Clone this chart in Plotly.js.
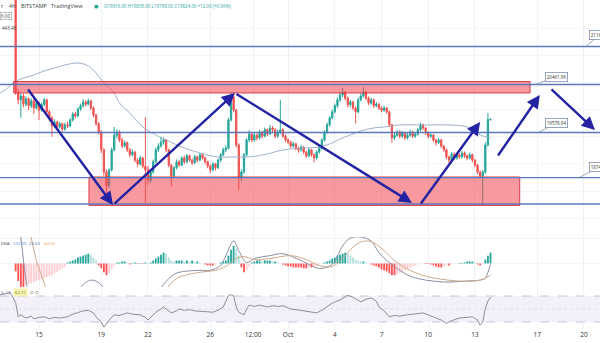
<!DOCTYPE html>
<html><head><meta charset="utf-8">
<script src="https://cdn.plot.ly/plotly-3.0.1.min.js"></script>
<style>html,body{margin:0;padding:0;background:#fff}#c{width:600px;height:343px}</style>
</head><body><div id="c"></div>
<script>
// ---- data: BTC/USD 4h candles (BITSTAMP), first candle 2022-09-13 12:00 ----
const firstCandle = Date.UTC(2022, 8, 13, 12);
const candleHours = 4;
const open = [22290,20320,20180,20250,20100,20200,20070,20160,20030,20120,19990,20100,20180,19960,19850,19700,19770,19680,19740,19640,
19720,19700,19810,19920,19880,20010,20070,20140,20100,20160,20030,19900,19740,19590,19260,18850,18600,18890,19260,19530,
19590,19440,19330,19390,19260,19170,19220,19070,19000,19110,18960,18890,18700,18850,19040,19260,19330,19400,19440,19260,
18980,18780,18930,19040,18980,19110,19040,19150,19070,19020,19130,19070,19170,19110,19040,18960,18890,19000,18930,19070,
19170,19260,19290,19810,20230,19990,19350,18740,18850,19170,19440,19550,19440,19530,19480,19590,19510,19630,19550,19660,
19630,19510,19590,19630,19510,19440,19400,19330,19370,19290,19260,19310,19220,19150,19260,19170,19110,19220,19290,19440,
19590,19720,19850,19960,20070,20180,20270,20320,20210,20090,20140,20030,19960,20180,20250,20320,20210,20120,20180,20070,
20100,20030,19990,20030,19960,19720,19480,19530,19590,19510,19570,19480,19530,19590,19510,19550,19630,19720,19660,19570,
19510,19530,19440,19390,19440,19330,19260,19130,19070,19180,19110,19170,19130,19200,19150,19110,19170,19070,18980,18850,
18780,18850,19350,19816];
const high = [22380,20380,20300,20290,20240,20230,20210,20190,20170,20150,20130,20220,20200,19990,19880,19820,19800,19780,19760,19760,
19780,19840,19950,19960,20040,20110,20190,20170,20200,20180,20060,19920,19770,19620,19290,18900,18920,19300,19680,19640,
19620,19480,19430,19410,19290,19270,19240,19110,19150,19130,19860,18960,18900,19080,19300,19380,19500,19490,19460,19280,
19000,18960,19080,19070,19140,19150,19180,19170,19100,19170,19150,19200,19200,19140,19060,18990,19030,19020,19100,19200,
19300,19340,19850,20310,20290,20010,19380,18900,19200,19480,19620,19580,19570,19560,19630,19610,19670,19650,19720,19700,
19660,19630,20180,19660,19540,19470,19430,19410,19390,19320,19350,19330,19240,19290,19280,19190,19250,19330,19470,19620,
19760,19880,20000,20110,20220,20330,20400,20350,20240,20180,20160,20060,20220,20300,20420,20350,20240,20220,20200,20140,
20120,20060,20070,20050,19980,19740,19570,19620,19620,19610,19590,19570,19630,19610,19590,19660,19760,19740,19680,19600,
19560,19550,19460,19480,19460,19350,19280,19150,19220,19210,19200,19190,19240,19230,19170,19210,19190,19090,19000,18880,
18890,19400,19940,19835];
const low = [20270,20100,19850,20040,20060,19990,20030,19920,20000,19810,19960,20060,19900,19780,19500,19660,19620,19650,19580,19610,
19660,19680,19780,19840,19860,19980,20040,20060,20080,19990,19860,19700,19540,19200,18780,18430,18550,18860,19230,19470,
19400,19290,19300,19220,19120,19140,19030,18950,18970,18920,18280,18620,18650,18820,19010,19220,19300,19350,19220,18940,
18580,18740,18900,18940,18960,19000,19010,19040,18980,19000,19030,19050,19080,19000,18920,18830,18860,18880,18910,19040,
19140,19220,19270,19780,19950,19300,18520,18680,18820,19140,19400,19400,19410,19430,19450,19470,19490,19510,19530,19580,
19470,19480,19550,19480,19400,19360,19290,19300,19250,19210,19230,19180,19110,19120,19130,19030,19080,19190,19260,19410,
19550,19690,19820,19930,20030,20140,20230,20170,20040,20050,19990,19750,19930,20150,20220,20170,20080,20090,20030,20040,
19990,19950,19960,19920,19680,19390,19440,19500,19470,19480,19440,19450,19500,19480,19480,19520,19600,19620,19530,19470,
19480,19400,19340,19370,19290,19220,19090,19020,19050,19070,19080,19090,19100,19110,19070,19080,19030,18940,18810,18740,
18250,18820,19320,19798];
const close = [20320,20180,20250,20100,20200,20070,20160,20030,20120,19990,20100,20180,19960,19850,19700,19770,19680,19740,19640,19720,
19700,19810,19920,19880,20010,20070,20140,20100,20160,20030,19900,19740,19590,19260,18850,18600,18890,19260,19530,19590,
19440,19330,19390,19260,19170,19220,19070,19000,19110,18960,18890,18700,18850,19040,19260,19330,19400,19440,19260,18980,
18780,18930,19040,18980,19110,19040,19150,19070,19020,19130,19070,19170,19110,19040,18960,18890,19000,18930,19070,19170,
19260,19290,19810,20230,19990,19350,18740,18850,19170,19440,19550,19440,19530,19480,19590,19510,19630,19550,19660,19630,
19510,19590,19630,19510,19440,19400,19330,19370,19290,19260,19310,19220,19150,19260,19170,19110,19220,19290,19440,19590,
19720,19850,19960,20070,20180,20270,20320,20210,20090,20140,20030,19960,20180,20250,20320,20210,20120,20180,20070,20100,
20030,19990,20030,19960,19720,19480,19530,19590,19510,19570,19480,19530,19590,19510,19550,19630,19720,19660,19570,19510,
19530,19440,19390,19440,19330,19260,19130,19070,19180,19110,19170,19130,19200,19150,19110,19170,19070,18980,18850,18780,
18850,19350,19816,19824];

// moving average (sampled at candle indices)
const maIdx = [-6,-4,-1,2,7,11,15,19,24,28,31,34,38,40,44,49,54,58,65,71,78,84,90,97,103,112,117,122,125,129,133,138,142,148,158,167,174,179,183];
const maVal = [20306,20361,20490,20563,20637,20711,20766,20821,20858,20803,20674,20490,20306,20122,19938,19680,19533,19441,19294,19202,19128,19128,19128,19184,19257,19294,19312,19386,19459,19533,19607,19662,19680,19717,19717,19717,19680,19533,19478];

// MACD histogram per candle
const macdHist = [-80,-180,-240,-240,-220,-210,-200,-190,-180,-170,-160,-150,-140,-130,-120,-100,-90,-70,-50,-30,
10,20,30,40,60,70,80,90,100,90,60,30,-20,-50,-90,-120,-100,-60,-20,10,
10,20,20,10,-10,5,10,-5,5,-5,10,5,10,30,50,70,90,110,100,60,
30,20,30,30,30,20,30,20,30,20,20,10,0,-10,-20,-20,-20,-10,0,10,
20,30,80,140,180,150,80,-40,-90,-70,-30,10,20,30,30,20,30,30,30,20,
20,10,0,-10,-20,-30,-30,-40,-40,-40,-40,-50,-50,-40,-40,-30,-20,-10,0,10,
20,30,50,60,80,90,100,110,100,80,60,40,30,20,20,10,0,-10,-20,-30,
-40,-60,-70,-80,-100,-120,-120,-110,-100,-90,-70,-60,-40,-30,-20,-10,0,0,-5,-5,
-10,-20,-30,-40,-40,-30,-20,-20,-10,-5,0,5,5,10,20,20,20,10,-10,-20,
-10,40,80,110];
const macdIdx = [0,2,4,6,9,13,17,21,25,29,33,36,40,44,48,52,56,60,63,71,75,79,81,84,86,89,92,98,103,110,117,122,126,129,133,137,140,144,148,152,156,161,167,173,179,181,182,183];
const macdVal = [580,260,-170,-420,-620,-670,-550,-370,-240,-170,-220,-470,-550,-520,-490,-420,-250,-130,-90,-70,-70,-20,80,230,130,10,50,80,100,30,-50,-10,180,260,270,230,110,10,-70,-130,-160,-180,-190,-180,-170,-150,-90,-10];
const signalIdx = [0,4,6,8,11,13,17,21,25,29,33,36,40,44,48,52,56,60,63,71,77,81,85,88,92,98,106,112,117,122,127,131,135,138,142,146,152,158,164,171,179,183];
const signalVal = [730,480,260,30,-200,-370,-520,-550,-490,-370,-290,-350,-420,-450,-460,-440,-330,-200,-140,-90,-70,-30,50,70,40,50,80,40,-20,-30,80,190,230,210,130,30,-70,-130,-160,-180,-170,-120];

// RSI (sampled at candle indices)
const rsiIdx = [-6,-4,-2,0,1,2,4,6,7,9,11,13,15,17,20,22,24,26,28,30,31,33,34,36,38,40,43,45,48,50,51,53,54,56,57,59,60,62,63,65,67,69,71,73,76,78,80,82,83,84,85,86,88,89,90,92,94,97,99,101,103,106,108,110,113,116,118,120,122,125,128,130,133,135,137,139,140,142,144,146,148,151,154,157,159,161,164,166,168,171,174,176,178,179,180,181,182,183];
const rsiVal = [72,74,75,60,38,41,36,39,35,37,38,35,37,36,38,42,45,47,48,44,38,30,22,33,41,40,44,42,41,37,33,40,45,50,53,47,44,47,50,48,49,47,47,46,45,48,53,71,72,70,53,45,41,50,56,54,56,53,55,54,55,50,49,48,46,44,48,53,59,64,71,68,61,65,67,62,53,47,38,40,39,41,42,44,41,38,33,28,32,36,37,38,33,25,30,51,62,68];

// drawings
const levels = [21161.26, 20461.96, 19578.94, 18747.55, 18263.10];
const zoneStart = ['2022-09-13 09:00', '2022-09-18 05:00'];
const zoneEnd   = ['2022-10-16 13:00', '2022-10-15 21:00'];
const zoneLow   = [20306, 18236];
const zoneHigh  = [20517, 18760];
const arrowFromT = ['2022-09-14 05:30','2022-09-19 18:00','2022-09-27 14:00','2022-10-09 11:00','2022-10-14 10:00','2022-10-17 19:40'];
const arrowFromP = [20398, 18245, 20306, 18245, 19128, 20398];
const arrowToT   = ['2022-09-19 18:00','2022-09-27 14:00','2022-10-08 23:00','2022-10-13 08:00','2022-10-17 04:00','2022-10-20 17:00'];
const arrowToP   = [18245, 20306, 18282, 19772, 20269, 19625];
const noteText = ['20461.96','19578.94','21161.26','18747.55'];
const noteT    = ['2022-10-16 21:00','2022-10-17 01:00','2022-10-20 03:00','2022-10-19 16:00'];
const noteP    = [20461.96, 19578.94, 21161.26, 18747.55];

const tickVals = ['2022-09-15','2022-09-19','2022-09-22','2022-09-26','2022-09-28 18:00','2022-10-01','2022-10-04','2022-10-07','2022-10-10','2022-10-13','2022-10-17','2022-10-20'];
const tickText = ['15','19','22','26','12:00','Oct','4','7','10','13','17','20'];

// ---- build ----
function tAt(i){ return new Date(firstCandle + i*candleHours*3600e3).toISOString().slice(0,16).replace('T',' '); }
const times = close.map((_, i) => tAt(i));

const histColors = macdHist.map((v, i) => {
  const prev = i > 0 ? macdHist[i-1] : v;
  if (v >= 0) return v >= prev ? '#26a69a' : '#b2dfdb';
  return v <= prev ? '#ff5252' : '#ffcdd2';
});

const traces = [
  {type:'candlestick', x:times, open:open, high:high, low:low, close:close, xaxis:'x', yaxis:'y',
   increasing:{line:{color:'#26a69a', width:1}, fillcolor:'#26a69a'},
   decreasing:{line:{color:'#ef5350', width:1}, fillcolor:'#ef5350'}, hoverinfo:'skip', showlegend:false},
  {type:'scatter', mode:'lines', x:maIdx.map(tAt), y:maVal, yaxis:'y', line:{color:'#9fb0cc', width:1, shape:'spline'}, hoverinfo:'skip', showlegend:false},
  {type:'bar', x:times, y:macdHist, yaxis:'y2', marker:{color:histColors, line:{width:0}}, hoverinfo:'skip', showlegend:false},
  {type:'scatter', mode:'lines', x:macdIdx.map(tAt), y:macdVal, yaxis:'y2', line:{color:'#8a8fa3', width:1, shape:'spline'}, hoverinfo:'skip', showlegend:false},
  {type:'scatter', mode:'lines', x:signalIdx.map(tAt), y:signalVal, yaxis:'y2', line:{color:'#d0a98a', width:1, shape:'spline'}, hoverinfo:'skip', showlegend:false},
  {type:'scatter', mode:'lines', x:rsiIdx.map(tAt), y:rsiVal, yaxis:'y3', line:{color:'#8c8c9c', width:1}, hoverinfo:'skip', showlegend:false}
];

const W = 600, H = 329;
function px(x){ return x / W; }
function py(y){ return 1 - y / H; }

const shapes = [];
shapes.push({type:'rect', xref:'paper', yref:'y3', x0:0, x1:1, y0:30, y1:70, fillcolor:'rgba(126,87,194,0.09)', line:{width:0}, layer:'below'});
[70,30].forEach(v => shapes.push({type:'line', xref:'paper', yref:'y3', x0:0, x1:1, y0:v, y1:v, line:{color:'#b7b9c6', width:0.8, dash:'dash'}, layer:'below'}));
shapes.push({type:'line', xref:'paper', yref:'y3', x0:0, x1:1, y0:50, y1:50, line:{color:'#d4d5de', width:0.6, dash:'dot'}, layer:'below'});
for (let k = 0; k < zoneStart.length; k++) {
  shapes.push({type:'rect', xref:'x', yref:'y', x0:zoneStart[k], x1:zoneEnd[k], y0:zoneLow[k], y1:zoneHigh[k],
    fillcolor:'rgba(242,70,80,0.55)', line:{color:'rgba(215,40,55,0.85)', width:1}, layer:'above'});
}
levels.forEach(v => shapes.push({type:'line', xref:'paper', yref:'y', x0:0, x1:1, y0:v, y1:v, line:{color:'#5a78bb', width:1.4}, layer:'above'}));

const annotations = [];
for (let k = 0; k < arrowFromT.length; k++) {
  annotations.push({xref:'x', yref:'y', axref:'x', ayref:'y', x:arrowToT[k], y:arrowToP[k], ax:arrowFromT[k], ay:arrowFromP[k],
    text:'', showarrow:true, arrowhead:2, arrowsize:1.1, arrowwidth:2.4, arrowcolor:'#2323a3'});
}
const noteOff = [[21,-8],[19,-9],[21,-12],[24,-11]];
for (let k = 0; k < noteText.length; k++) {
  annotations.push({xref:'x', yref:'y', x:noteT[k], y:noteP[k], ax:noteOff[k][0], ay:noteOff[k][1], text:noteText[k],
    showarrow:true, arrowhead:0, arrowwidth:0.8, arrowcolor:'#8190b0', bordercolor:'#8190b0', borderwidth:0.8, borderpad:1,
    bgcolor:'#ffffff', font:{family:'Open Sans', size:4.5, color:'#333'}});
}
function txt(t, x, y, opts){
  return Object.assign({xref:'paper', yref:'paper', x:px(x), y:py(y), xanchor:'left', yanchor:'middle', text:t, showarrow:false,
    font:{family:'Open Sans', size:5.5, color:'#444'}}, opts || {});
}
annotations.push(txt('r', -1, 6));
annotations.push(txt('4h', 7, 6));
annotations.push(txt('BITSTAMP', 19, 6));
annotations.push(txt('TradingView', 49, 6));
annotations.push(txt('●', 92, 6, {font:{family:'DejaVu Sans', size:5, color:'#26a69a'}}));
annotations.push(txt('O19816.00 H19835.00 L19798.00 C19824.00 +12.00 (+0.06%)', 102, 6, {font:{family:'Open Sans', size:4.5, color:'#26a69a'}}));
annotations.push(txt('6.00', 0, 16, {font:{family:'Open Sans', size:4.5, color:'#444'}, bordercolor:'#9a9a9a', borderwidth:0.6, borderpad:0.5, bgcolor:'#fff'}));
annotations.push(txt('443.48', 0, 28, {font:{family:'Open Sans', size:4.5, color:'#444'}}));
annotations.push(txt('EMA', -1, 243, {font:{family:'Open Sans', size:4.2, color:'#555'}}));
annotations.push(txt('102.09', 11, 243, {font:{family:'Open Sans', size:4.2, color:'#3f7fd0'}}));
annotations.push(txt('29.64', 27, 243, {font:{family:'Open Sans', size:4.2, color:'#5a6fa0'}}));
annotations.push(txt('-64.05', 41, 243, {font:{family:'Open Sans', size:4.2, color:'#f09a3a'}}));
annotations.push(txt('5, 13', -1, 292, {font:{family:'Open Sans', size:4.2, color:'#555'}}));
annotations.push(txt('62.71', 13, 292, {font:{family:'Open Sans', size:4.2, color:'#8a7a20'}, bgcolor:'#f6f3b0'}));
annotations.push(txt('∅ ∅', 28, 292, {font:{family:'DejaVu Sans', size:4.2, color:'#555'}}));

const layout = {
  width: 600, height: 343, margin:{l:0, r:0, t:0, b:14}, paper_bgcolor:'#ffffff', plot_bgcolor:'#ffffff',
  showlegend:false, bargap:0.3,
  xaxis:{type:'date', anchor:'y3', range:['2022-09-12 11:53','2022-10-21 00:45'], tickvals:tickVals, ticktext:tickText,
    showgrid:true, gridcolor:'#eef1f6', gridwidth:1, zeroline:false, showline:false, ticks:'',
    tickfont:{family:'Open Sans', size:6.5, color:'#333'}, rangeslider:{visible:false}, fixedrange:true},
  yaxis:{domain:[0.2827,1], range:[17674,22017], showticklabels:false, showgrid:true, gridcolor:'#f3f5f9', dtick:500, tick0:0, zeroline:false, fixedrange:true},
  yaxis2:{domain:[0.1277,0.2796], range:[-240,270], showticklabels:false, showgrid:true, gridcolor:'#f3f5f9', dtick:250, zeroline:false, fixedrange:true},
  yaxis3:{domain:[0,0.1246], range:[19.2,82.3], showticklabels:false, showgrid:false, zeroline:false, fixedrange:true},
  shapes: shapes, annotations: annotations
};
Plotly.newPlot('c', traces, layout, {displayModeBar:false, staticPlot:true});
</script></body></html>
